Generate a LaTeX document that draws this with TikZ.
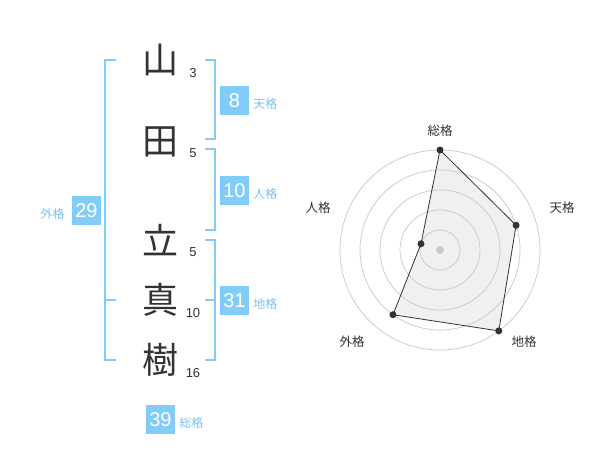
\documentclass[tikz,border=0pt]{standalone}
\usepackage{fontspec}
\setmainfont{Liberation Sans}
\newfontfamily\jp{Noto Sans CJK JP}
\usepackage{tikz}
\usetikzlibrary{positioning}
\definecolor{kakublue}{RGB}{130,204,250}
\definecolor{labelblue}{RGB}{120,196,240}
\definecolor{inkgray}{RGB}{51,51,51}
\definecolor{ringgray}{RGB}{200,200,200}
\definecolor{areagray}{RGB}{240,240,240}

\begin{document}
\begin{tikzpicture}[x=1pt,y=-1pt,
    kanji/.style={font=\jp\fontsize{36}{36}\selectfont,text=inkgray,inner sep=0pt},
    strokes/.style={font=\fontsize{13}{13}\selectfont,text=inkgray,inner sep=0pt},
    kakubox/.style={fill=kakublue,text=white,minimum size=29pt,inner sep=0pt,font=\fontsize{20}{20}\selectfont},
    kakulabel/.style={font=\jp\fontsize{12}{12}\selectfont,text=labelblue,inner sep=0pt,yshift=-3pt},
    bracket/.style={kakublue,line width=2pt},
    axislabel/.style={font=\jp\fontsize{12.5}{12.5}\selectfont,text=inkgray,inner sep=0pt},
    dot/.style={circle,fill=inkgray,inner sep=0pt,minimum size=7pt}]
    \useasboundingbox[fill=white] (0,0) rectangle (600,470);
        % name
        \node[kanji](yama) at (160,60) {山};
        \node[kanji](ta) at (160,142) {田};
        \node[kanji](tatsu) at (160,240) {立};
        \node[kanji](ma) at (160,300) {真};
        \node[kanji](ki) at (160,360) {樹};
        \node[strokes](n1) at (193,73) {3};
        \node[strokes](n2) at (193,153) {5};
        \node[strokes](n3) at (193,252) {5};
        \node[strokes](n4) at (193,313) {10};
        \node[strokes](n5) at (193,373) {16};
        % brackets
        \draw[bracket](116,60)--(105,60)--(105,360)--(116,360);
        \draw[bracket](105,300)--(116,300);
        \draw[bracket](205,60)--(215,60)--(215,139)--(205,139);
        \draw[bracket](205,149)--(215,149)--(215,230)--(205,230);
        \draw[bracket](205,240)--(215,240)--(215,360)--(205,360);
        \draw[bracket](215,300)--(205,300);
        % kaku
        \node[kakubox](ten) at (234.5,100.5) {8};
        \node[kakulabel,right=4pt of ten](tenl) {天格};
        \node[kakubox](jin) at (234.5,190.5) {10};
        \node[kakulabel,right=4pt of jin](jinl) {人格};
        \node[kakubox](chi) at (234.5,300.5) {31};
        \node[kakulabel,right=4pt of chi](chil) {地格};
        \node[kakubox](gai) at (86.5,210.5) {29};
        \node[kakulabel,left=7pt of gai](gail) {外格};
        \node[kakubox](sou) at (160.5,419.5) {39};
        \node[kakulabel,right=4pt of sou](soul) {総格};
        % radar
        \begin{scope}[shift={(440,250)},y=1pt]
            \coordinate(P1) at (90:100);
            \coordinate(P2) at (18:80);
            \coordinate(P3) at (-54:100);
            \coordinate(P4) at (-126:80);
            \coordinate(P5) at (162:20);
            \fill[areagray](P1)--(P2)--(P3)--(P4)--(P5)--cycle;
            \foreach \r in {20,40,...,100}
                \draw[ringgray,line width=0.7pt](0,0) circle[radius=\r];
            \fill[ringgray](0,0) circle[radius=4];
            \draw[inkgray,line width=0.8pt](P1)--(P2)--(P3)--(P4)--(P5)--cycle;
            \foreach \p in {P1,P2,P3,P4,P5}
                \node[dot] at (\p) {};
        \end{scope}
        \node[axislabel](a1) at (440,131) {総格};
        \node[axislabel](a2) at (562,208) {天格};
        \node[axislabel](a3) at (524,342) {地格};
        \node[axislabel](a4) at (352,342) {外格};
        \node[axislabel](a5) at (318,208) {人格};
    \end{tikzpicture}
\end{document}
